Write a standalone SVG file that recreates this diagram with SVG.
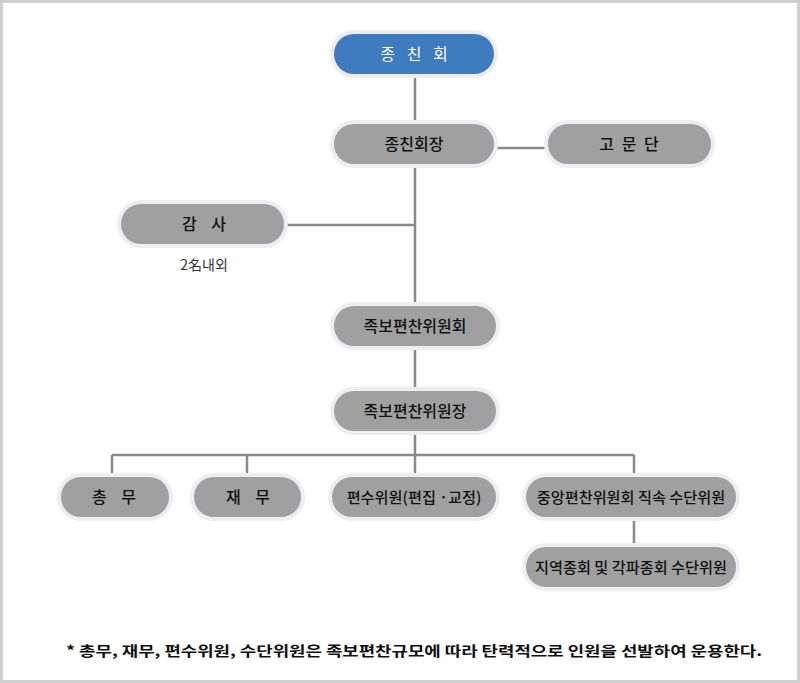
<svg xmlns="http://www.w3.org/2000/svg" width="800" height="683" viewBox="0 0 800 683">
<style>
.halo{fill:#ededf3}
.n{fill:#a0a0a0}
.b{fill:#3e7bbf}
.t{font-family:"Noto Sans CJK KR","Noto Sans",sans-serif;font-size:16px;font-weight:500;fill:#111;text-anchor:middle;white-space:pre}
.s{font-size:15.2px}
.tw{fill:#fff;font-weight:400}
.ln{stroke:#8a8a8a;stroke-width:2.5;fill:none}
</style>
<rect x="1.5" y="1.5" width="797" height="680" fill="#fff" stroke="#cfcfcf" stroke-width="3"/>
<g id="connectors" class="ln">
<path d="M415 75V390"/>
<path d="M497 148H547"/>
<path d="M287 225H415"/>
<path d="M415 432V455M112 455H634M112 455V476M247 455V476M415 455V476M634 455V476"/>
<path d="M634 518V545"/>
</g>
<g id="n1"><rect class="halo" x="330" y="30" width="168" height="48" rx="24"/><rect class="b" x="334" y="34" width="160" height="40" rx="20"/><text class="t tw" x="416" y="60" style="letter-spacing:4px">종 친 회</text></g>
<g id="n2"><rect class="halo" x="330" y="120" width="168" height="48" rx="24"/><rect class="n" x="334" y="124" width="160" height="40" rx="20"/><text class="t" x="414" y="150">종친회장</text></g>
<g id="n3"><rect class="halo" x="544" y="120" width="171" height="48" rx="24"/><rect class="n" x="548" y="124" width="163" height="40" rx="20"/><text class="t" x="630" y="150" style="letter-spacing:2px">고 문 단</text></g>
<g id="n4"><rect class="halo" x="117" y="200" width="171" height="48" rx="24"/><rect class="n" x="121" y="204" width="163" height="40" rx="20"/><text class="t" x="204" y="230">감    사</text><text class="t" x="204" y="270" style="font-size:14px;font-weight:400;fill:#333">2名내외</text></g>
<g id="n5"><rect class="halo" x="330" y="302" width="170" height="48" rx="24"/><rect class="n" x="334" y="306" width="162" height="40" rx="20"/><text class="t" x="415" y="332">족보편찬위원회</text></g>
<g id="n6"><rect class="halo" x="330" y="387" width="170" height="48" rx="24"/><rect class="n" x="334" y="391" width="162" height="40" rx="20"/><text class="t" x="415" y="417">족보편찬위원장</text></g>
<g id="n7"><rect class="halo" x="57" y="473" width="116" height="48" rx="24"/><rect class="n" x="61" y="477" width="108" height="40" rx="20"/><text class="t" x="114" y="503">총    무</text></g>
<g id="n8"><rect class="halo" x="190" y="473" width="115" height="48" rx="24"/><rect class="n" x="194" y="477" width="107" height="40" rx="20"/><text class="t" x="248" y="503">재    무</text></g>
<g id="n9"><rect class="halo" x="328" y="473" width="172" height="48" rx="24"/><rect class="n" x="332" y="477" width="164" height="40" rx="20"/><text class="t s" x="414" y="503">편수위원(편집 ·교정)</text></g>
<g id="n10"><rect class="halo" x="522" y="473" width="218" height="48" rx="24"/><rect class="n" x="526" y="477" width="210" height="40" rx="20"/><text class="t s" x="631" y="503">중앙편찬위원회 직속 수단위원</text></g>
<g id="n11"><rect class="halo" x="522" y="543" width="218" height="48" rx="24"/><rect class="n" x="526" y="547" width="210" height="40" rx="20"/><text class="t s" x="631" y="573">지역종회 및 각파종회 수단위원</text></g>
<text x="66" y="656" style="font-family:'Noto Sans CJK KR','Noto Sans',sans-serif;font-size:14px;font-weight:bold;fill:#111" textLength="696" lengthAdjust="spacingAndGlyphs">* 총무, 재무, 편수위원, 수단위원은 족보편찬규모에 따라 탄력적으로 인원을 선발하여 운용한다.</text>
</svg>
